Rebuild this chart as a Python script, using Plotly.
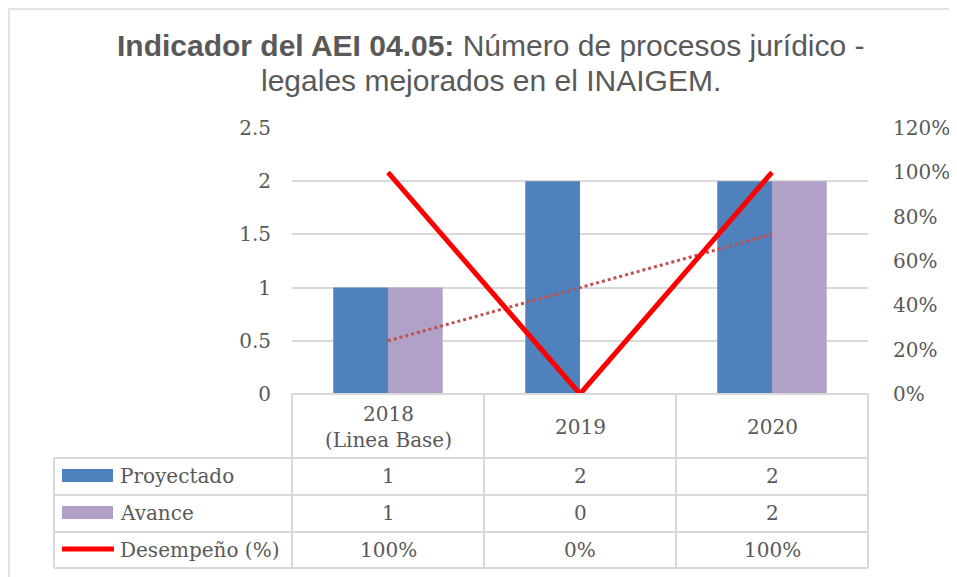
import numpy as np
import plotly.graph_objects as go

# ---- data ----
categories = ["2018", "2019", "2020"]
header_labels = ["2018<br>(Linea Base)", "2019", "2020"]
proyectado = [1, 2, 2]
avance = [1, 0, 2]
desempeno = [1.0, 0.0, 1.0]
series_names = ["Proyectado", "Avance", "Desempeño (%)"]
left_ticks = [0, 0.5, 1, 1.5, 2, 2.5]
left_tick_text = ["0", "0.5", "1", "1.5", "2", "2.5"]
right_ticks = [0, 0.2, 0.4, 0.6, 0.8, 1.0, 1.2]
right_tick_text = ["0%", "20%", "40%", "60%", "80%", "100%", "120%"]
title_lines = ["<b>Indicador del AEI 04.05:</b> Número de procesos jurídico -",
               "legales mejorados en el INAIGEM."]

# linear trendline of Avance (Excel-style)
idx = np.arange(len(avance))
coef = np.polyfit(idx, avance, 1)
trend = np.polyval(coef, idx)

BLUE = "#4F81BD"
PURPLE = "#B2A1C7"
RED = "#FF0000"
TREND = "#C0504D"
GRID = "#D9D9D9"
TXT = "#595959"
SERIF = "DejaVu Serif"

OFF = 8  # page body margin
W, H = 957 - OFF, 577 - OFF
# plot area in screenshot pixels
L, R, T, B = 292, 868, 128, 394


def X(px):
    return (px - L) / (R - L)


def Y(py):
    return (B - py) / (B - T)


fig = go.Figure()
fig.add_trace(go.Bar(x=categories, y=proyectado, name=series_names[0],
                     marker=dict(color=BLUE, line=dict(width=0))))
fig.add_trace(go.Bar(x=categories, y=avance, name=series_names[1],
                     marker=dict(color=PURPLE, line=dict(width=0))))
fig.add_trace(go.Scatter(x=categories, y=trend, mode="lines",
                         line=dict(color=TREND, width=3, dash="dot"),
                         hoverinfo="skip"))
fig.add_trace(go.Scatter(x=categories, y=desempeno, name=series_names[2],
                         yaxis="y2", mode="lines",
                         line=dict(color=RED, width=5)))

shapes = []
line_style = dict(color=GRID, width=2)
# outer frame
shapes.append(dict(type="rect", xref="paper", yref="paper",
                   x0=X(9), x1=X(975), y0=Y(9), y1=Y(595),
                   line=dict(color=GRID, width=1.5), layer="below"))
# table horizontal lines
shapes.append(dict(type="line", xref="paper", yref="paper",
                   x0=X(292), x1=X(868), y0=Y(394), y1=Y(394), line=line_style))
for py in [458, 495, 532, 568]:
    shapes.append(dict(type="line", xref="paper", yref="paper",
                       x0=X(54), x1=X(868), y0=Y(py), y1=Y(py), line=line_style))
# table vertical lines
for pxv in [292, 484, 676, 868]:
    shapes.append(dict(type="line", xref="paper", yref="paper",
                       x0=X(pxv), x1=X(pxv), y0=Y(394), y1=Y(568), line=line_style))
shapes.append(dict(type="line", xref="paper", yref="paper",
                   x0=X(54), x1=X(54), y0=Y(458), y1=Y(568), line=line_style))
# legend keys
shapes.append(dict(type="rect", xref="paper", yref="paper",
                   x0=X(62), x1=X(113), y0=Y(469), y1=Y(482),
                   fillcolor=BLUE, line=dict(width=0)))
shapes.append(dict(type="rect", xref="paper", yref="paper",
                   x0=X(62), x1=X(113), y0=Y(506), y1=Y(519),
                   fillcolor=PURPLE, line=dict(width=0)))
shapes.append(dict(type="line", xref="paper", yref="paper",
                   x0=X(62), x1=X(114), y0=Y(549), y1=Y(549),
                   line=dict(color=RED, width=5)))

annotations = []
tfont = dict(family=SERIF, size=20, color=TXT)
# header labels (x = category index)
for i, lab in enumerate(header_labels):
    annotations.append(dict(x=i, xref="x", y=Y(427), yref="paper", text=lab,
                            showarrow=False, font=tfont, xanchor="center",
                            yanchor="middle"))
# rows
rows = [
    [str(v) for v in proyectado],
    [str(v) for v in avance],
    [f"{round(v * 100)}%" for v in desempeno],
]
row_y = [476, 513, 550]
for name, vals, py in zip(series_names, rows, row_y):
    annotations.append(dict(x=X(118), xref="paper", y=Y(py), yref="paper",
                            text=name, showarrow=False, font=tfont,
                            xanchor="left", yanchor="middle"))
    for i, v in enumerate(vals):
        annotations.append(dict(x=i, xref="x", y=Y(py), yref="paper", text=v,
                                showarrow=False, font=tfont, xanchor="center",
                                yanchor="middle"))
# title (two lines)
for line, py in zip(title_lines, [46, 81]):
    annotations.append(dict(
        x=X(491), xref="paper", y=Y(py), yref="paper", text=line,
        showarrow=False, xanchor="center", yanchor="middle",
        font=dict(family="Liberation Sans, Arial", size=30, color=TXT)))

fig.update_layout(
    width=W, height=H,
    margin=dict(l=L - OFF, r=W - (R - OFF), t=T - OFF, b=H - (B - OFF),
                pad=0, autoexpand=False),
    paper_bgcolor="white", plot_bgcolor="white",
    showlegend=False,
    barmode="group", bargap=0.43, bargroupgap=0,
    xaxis=dict(type="category", range=[-0.5, len(categories) - 0.5],
               showticklabels=False, showgrid=False, automargin=False,
               zeroline=False, showline=False, ticks=""),
    yaxis=dict(range=[0, 2.5], tickvals=left_ticks, ticktext=left_tick_text,
               showgrid=True, gridcolor=GRID, gridwidth=2, zeroline=False,
               showline=False, ticks="", ticklabelstandoff=20, automargin=False,
               tickfont=dict(family=SERIF, size=20, color=TXT)),
    yaxis2=dict(range=[0, 1.2], tickvals=right_ticks, ticktext=right_tick_text,
                overlaying="y", side="right", showgrid=False, zeroline=False,
                showline=False, ticks="", ticklabelstandoff=24, automargin=False,
                tickfont=dict(family=SERIF, size=20, color=TXT)),
    shapes=shapes,
    annotations=annotations,
)

fig.write_html("out.html")
